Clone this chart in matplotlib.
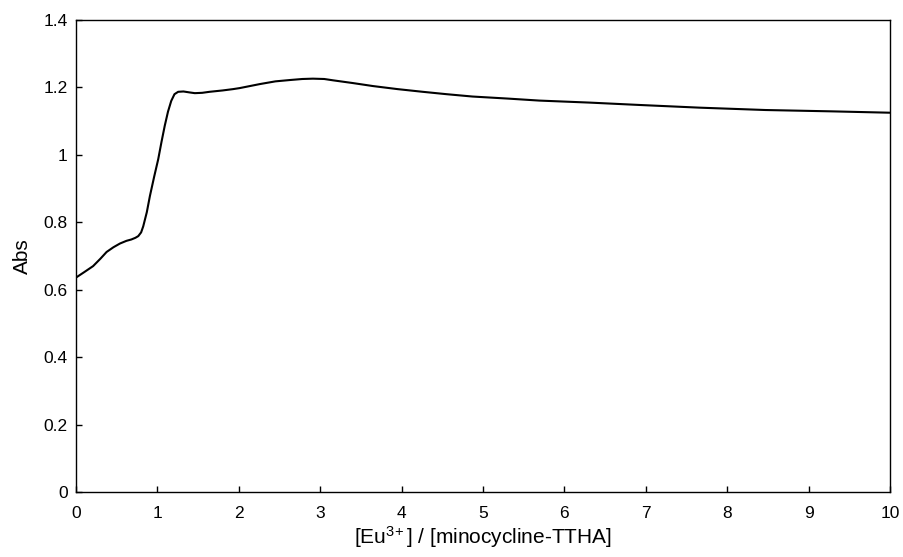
import numpy as np
import matplotlib
matplotlib.use('Agg')
import matplotlib.pyplot as plt

plt.rcParams['font.family'] = ['Liberation Sans', 'DejaVu Sans']
plt.rcParams['mathtext.fontset'] = 'custom'
plt.rcParams['mathtext.rm'] = 'Liberation Sans'
plt.rcParams['mathtext.default'] = 'regular'

# Absorbance vs. ratio
ratio = [0.0, 0.1, 0.21, 0.3, 0.376, 0.46, 0.54, 0.62, 0.68, 0.73, 0.765, 0.8, 0.826,
         0.87, 0.908, 0.96, 1.01, 1.05, 1.09, 1.13, 1.17, 1.21, 1.255, 1.32, 1.4, 1.46,
         1.55, 1.64, 1.8, 1.93, 2.01, 2.26, 2.45, 2.63, 2.78, 2.91, 3.05, 3.16, 3.4,
         3.65, 3.95, 4.26, 4.55, 4.87, 5.3, 5.69, 6.31, 6.92, 7.66, 8.47, 9.29, 10.0]
absorb = [0.636, 0.652, 0.670, 0.692, 0.712, 0.726, 0.737, 0.745, 0.749, 0.754, 0.759,
          0.770, 0.788, 0.830, 0.878, 0.935, 0.987, 1.038, 1.086, 1.128, 1.160, 1.180,
          1.187, 1.188, 1.185, 1.183, 1.184, 1.187, 1.191, 1.195, 1.198, 1.210, 1.218,
          1.222, 1.225, 1.226, 1.225, 1.221, 1.213, 1.204, 1.195, 1.187, 1.180, 1.173,
          1.167, 1.161, 1.155, 1.148, 1.140, 1.133, 1.129, 1.125]

xticks = list(range(0, 11))
yticks = [0, 0.2, 0.4, 0.6, 0.8, 1.0, 1.2, 1.4]
ytick_labels = ['0', '0.2', '0.4', '0.6', '0.8', '1', '1.2', '1.4']

fig = plt.figure(figsize=(9.04, 5.57), dpi=100)
ax = fig.add_axes([76/904, 1 - 492/557, (890 - 76)/904, (492 - 20)/557])

ax.plot(ratio, absorb, color='black', linewidth=1.5)

ax.set_xlim(0, 10)
ax.set_ylim(0, 1.4)
ax.set_xticks(xticks)
ax.set_xticklabels([str(t) for t in xticks])
ax.set_yticks(yticks)
ax.set_yticklabels(ytick_labels)
ax.tick_params(direction='in', length=4, width=1, labelsize=12.5)
ax.tick_params(axis='x', pad=10)
ax.tick_params(axis='y', pad=6)
for s in ax.spines.values():
    s.set_linewidth(1.0)

ax.set_xlabel(r'[Eu$^{3\!+}$] / [minocycline-TTHA]', fontsize=15, labelpad=2)
ax.set_ylabel('Abs', fontsize=15, labelpad=8)

fig.savefig('out.png', dpi=100)
